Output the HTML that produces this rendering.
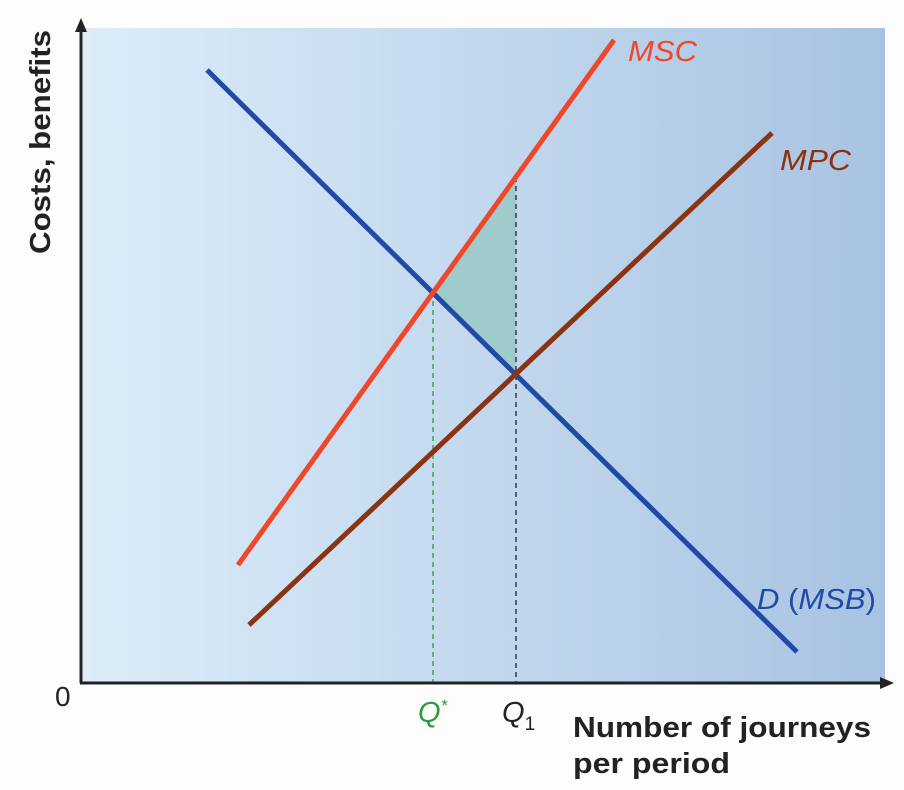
<!DOCTYPE html>
<html><head><style>body{margin:0;background:#fdfdfd}svg{display:block}</style></head><body>
<svg width="904" height="790" xmlns="http://www.w3.org/2000/svg" font-family="Liberation Sans, sans-serif">
<defs><linearGradient id="g" x1="0" x2="1" y1="0" y2="0"><stop offset="0" stop-color="#dcedf9"/><stop offset="1" stop-color="#a8c3e2"/></linearGradient></defs>
<rect x="82" y="28" width="803" height="654" fill="url(#g)"/>
<polygon points="433,292 516,177 516,373" fill="#9fcbcc"/>
<line x1="433" y1="292" x2="433" y2="682" stroke="#2a9a3a" stroke-width="1.3" stroke-dasharray="5,4"/>
<line x1="516" y1="177" x2="516" y2="682" stroke="#222" stroke-width="1.3" stroke-dasharray="5,4"/>
<line x1="207" y1="70" x2="797" y2="652" stroke="#2149a6" stroke-width="5"/>
<line x1="249" y1="625" x2="772" y2="133" stroke="#8b3311" stroke-width="5"/>
<line x1="238" y1="565" x2="614" y2="40" stroke="#f0462a" stroke-width="5"/>
<line x1="81" y1="683" x2="81" y2="30" stroke="#222" stroke-width="3"/>
<polygon points="81,18 75,32 87,32" fill="#222"/>
<line x1="80" y1="683" x2="882" y2="683" stroke="#222" stroke-width="3"/>
<polygon points="894,683 880,677 880,689" fill="#222"/>
<text transform="translate(50,142) rotate(-90)" text-anchor="middle" font-size="29" font-weight="bold" fill="#222" textLength="224" lengthAdjust="spacingAndGlyphs">Costs, benefits</text>
<text x="55" y="706" font-size="28" fill="#222">0</text>
<text x="628" y="61" font-size="29" font-style="italic" fill="#f0462a" textLength="69" lengthAdjust="spacingAndGlyphs">MSC</text>
<text x="780" y="170" font-size="29" font-style="italic" fill="#8b3311" textLength="71" lengthAdjust="spacingAndGlyphs">MPC</text>
<text x="757" y="609" font-size="29" fill="#2149a6" textLength="119" lengthAdjust="spacingAndGlyphs"><tspan font-style="italic">D</tspan> (<tspan font-style="italic">MSB</tspan>)</text>
<text x="418" y="722" font-size="29" font-style="italic" fill="#2a9a3a">Q<tspan font-size="17" dy="-11">*</tspan></text>
<text x="502" y="722" font-size="29" font-style="italic" fill="#222">Q<tspan font-size="19" dy="8" font-style="normal">1</tspan></text>
<text x="573" y="737" font-size="29" font-weight="bold" fill="#222" textLength="298" lengthAdjust="spacingAndGlyphs">Number of journeys</text>
<text x="573" y="773" font-size="29" font-weight="bold" fill="#222" textLength="157" lengthAdjust="spacingAndGlyphs">per period</text>
</svg>
</body></html>
